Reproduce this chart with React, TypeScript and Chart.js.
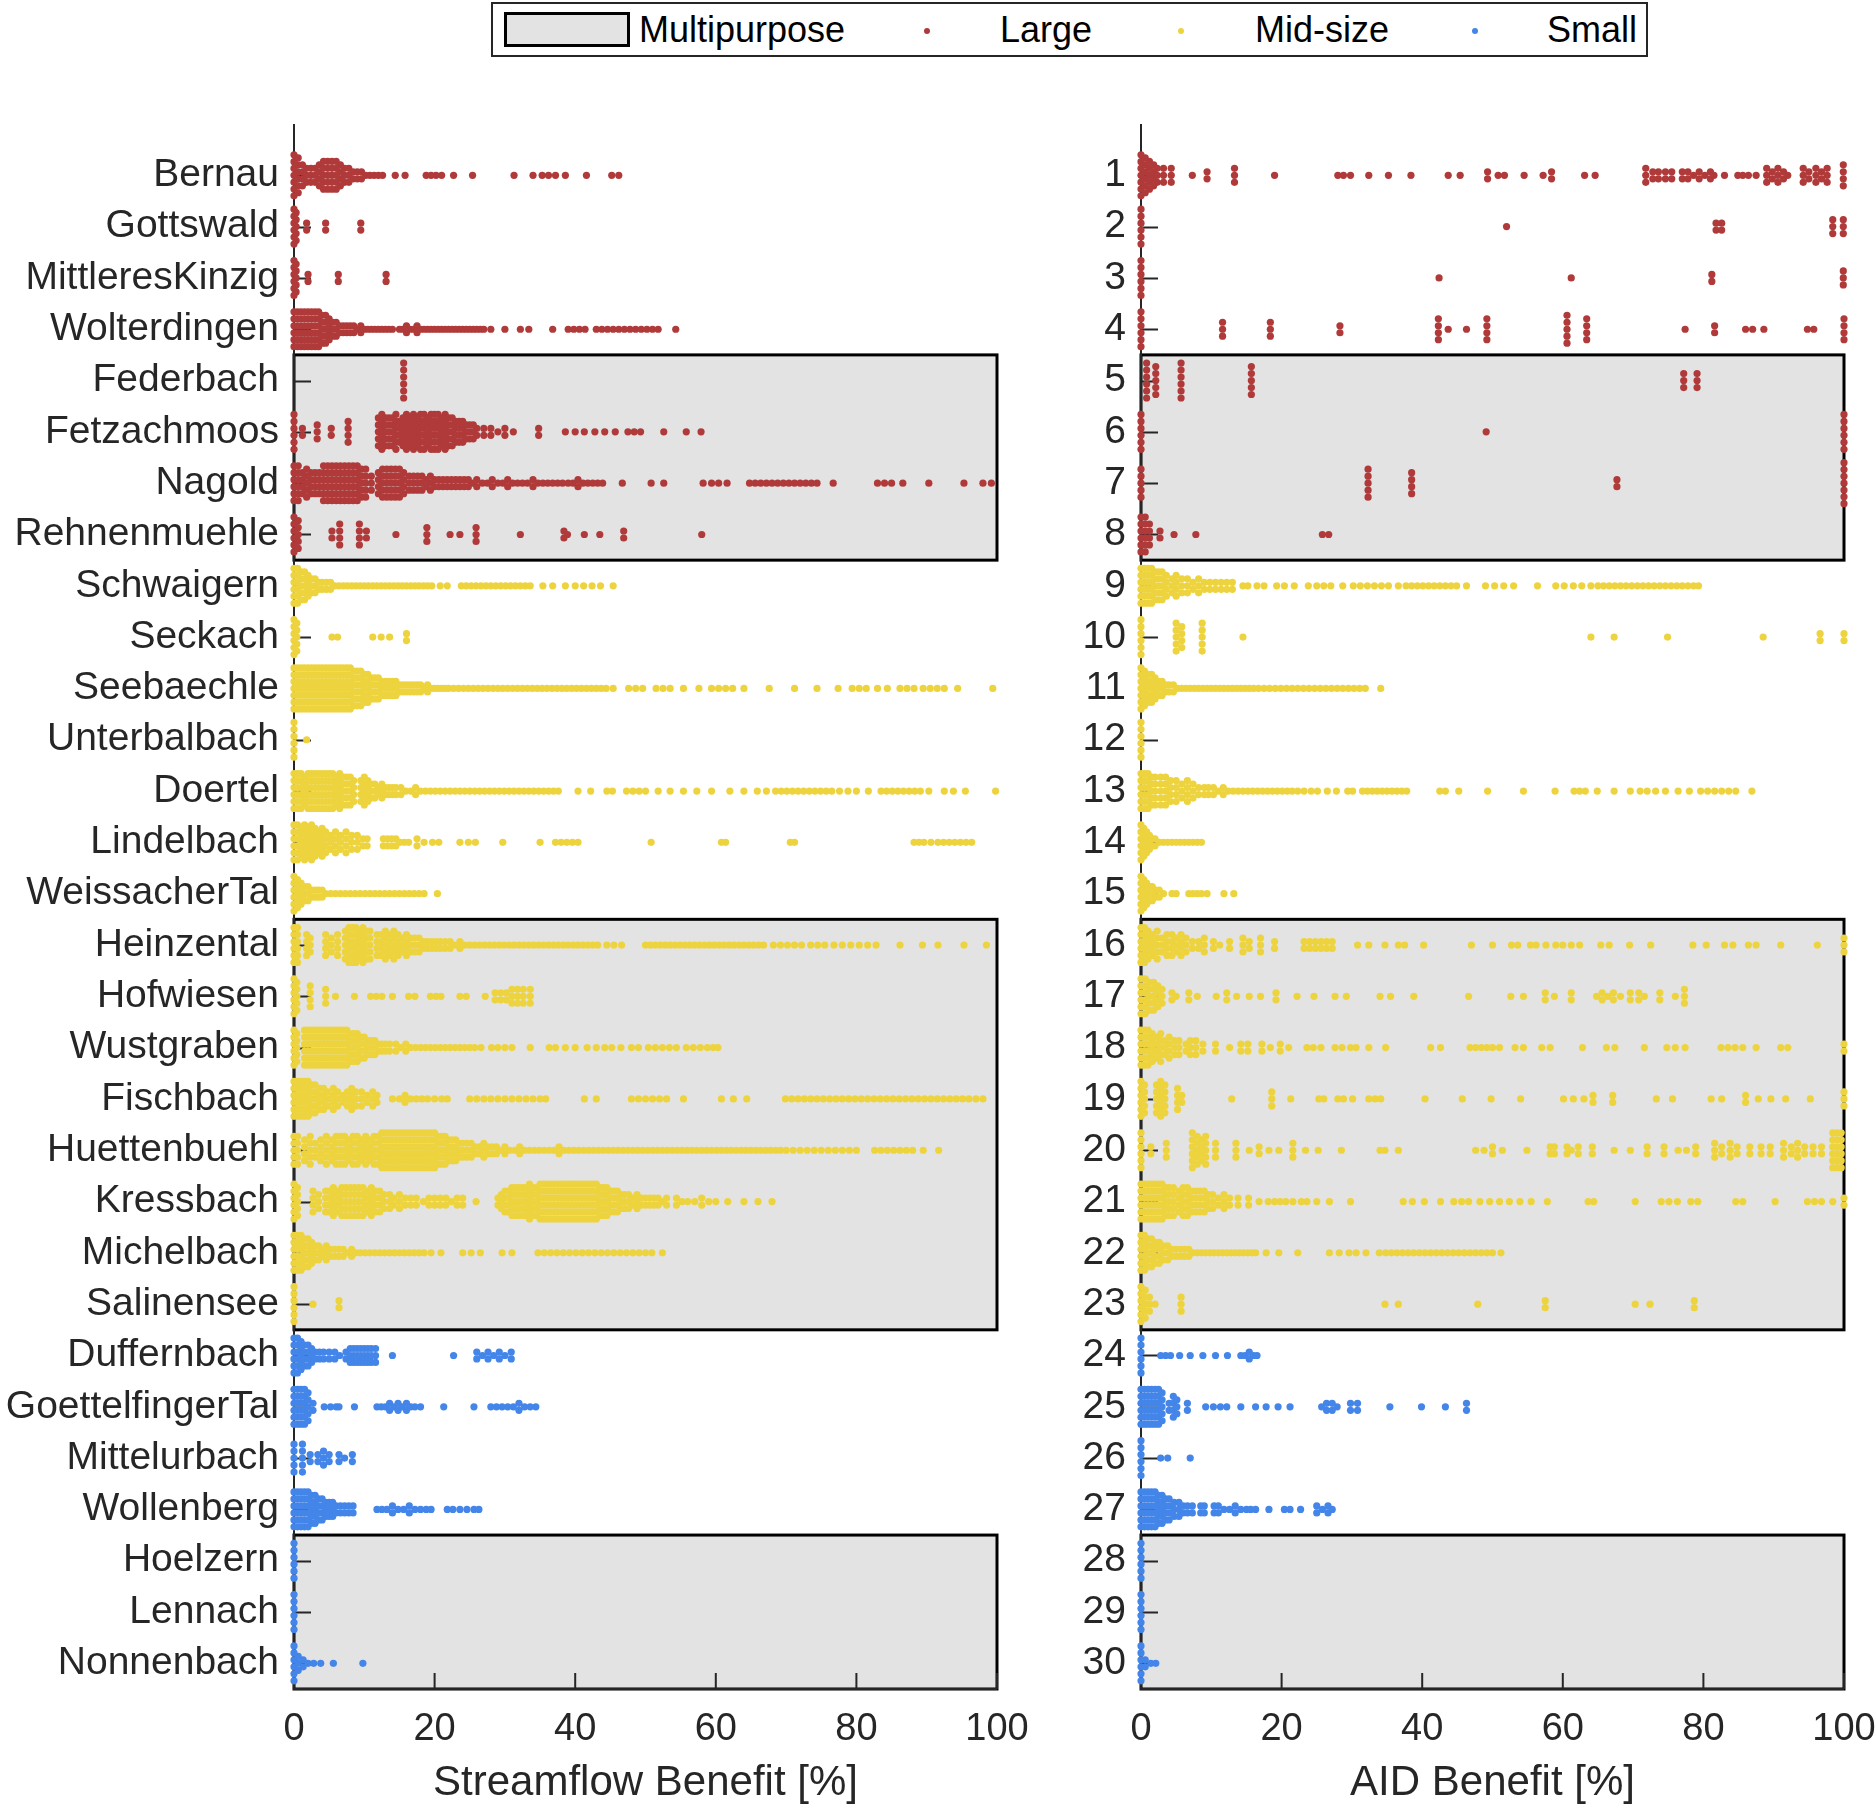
import React, { useEffect, useRef } from "react";
import { Chart, registerables } from "chart.js";

Chart.register(...registerables);

type Pt = [number, number]; // [benefit value in %, number of points stacked at that value]

// ---------- categories / labels ----------
const siteNames = [
  "Bernau", "Gottswald", "MittleresKinzig", "Wolterdingen", "Federbach", "Fetzachmoos", "Nagold", "Rehnenmuehle",
  "Schwaigern", "Seckach", "Seebaechle", "Unterbalbach", "Doertel", "Lindelbach", "WeissacherTal",
  "Heinzental", "Hofwiesen", "Wustgraben", "Fischbach", "Huettenbuehl", "Kressbach", "Michelbach", "Salinensee",
  "Duffernbach", "GoettelfingerTal", "Mittelurbach", "Wollenberg", "Hoelzern", "Lennach", "Nonnenbach",
];
const siteNumbers = siteNames.map((_, i) => String(i + 1));
const sizeClasses = ["Large", "Mid-size", "Small"];
const sizeRowRanges = [[1, 8], [9, 23], [24, 30]];
const sizeColors = ["#B03A3A", "#EDD43F", "#4385E8"];
const multipurposeGroups = [[5, 8], [16, 23], [28, 30]];
const xTickValues = [0, 20, 40, 60, 80, 100];
const panelTitles = ["Streamflow Benefit [%]", "AID Benefit [%]"];

// ---------- Streamflow benefit (left panel) ----------
const sfBernau: Pt[] = [[0,7],[0.6,6],[1.2,4],[1.8,3],[2.4,3],[3,3],[3.6,4],[4.2,5],[4.8,5],[5.4,5],[6,5],[6.6,4],[7.2,3],[7.8,3],[8.4,2],[9,2],[9.6,2],[10.2,1],[10.8,1],[11.4,1],[12,1],[12.6,1],[14.4,1],[15.8,1],[18.8,1],[19.5,1],[20.2,1],[21,1],[22.7,1],[25.4,1],[31.3,1],[34,1],[35.3,1],[36.2,1],[37.2,1],[38.6,1],[41.6,1],[45.2,1],[46.2,1]];
const sfGottswald: Pt[] = [[0,6],[0.3,5],[1.8,2],[4.5,2],[9.5,2]];
const sfMittleresKinzig: Pt[] = [[0,6],[0.3,5],[2,2],[6.3,2],[13.1,2]];
const sfWolterdingen: Pt[] = [[0,6],[0.5,6],[1,6],[1.5,6],[2,6],[2.5,6],[3,6],[3.5,6],[4,5],[4.5,5],[5,4],[5.5,3],[6,3],[6.5,2],[7,2],[7.5,2],[8,2],[8.5,2],[9,1],[9.5,2],[10,1],[10.5,1],[11,1],[11.5,1],[12,1],[12.5,1],[13,1],[13.5,1],[14,1],[15,1],[15.5,1],[16,2],[16.5,1],[17,1],[17.5,2],[18,1],[18.5,1],[19,1],[19.5,1],[20,1],[20.5,1],[21,1],[21.5,1],[22,1],[22.5,1],[23,1],[23.5,1],[24,1],[24.5,1],[25,1],[25.5,1],[26,1],[26.5,1],[27,1],[28,1],[30,1],[32.2,1],[33.4,1],[36.8,1],[39,1],[39.8,1],[40.6,1],[41.4,1],[43,1],[43.8,1],[44.6,1],[45.4,1],[46.2,1],[47,1],[47.8,1],[48.6,1],[49.4,1],[50.2,1],[51,1],[51.8,1],[54.3,1]];
const sfFederbach: Pt[] = [[15.6,6]];
const sfFetzachmoos: Pt[] = [[0,6],[1.2,2],[3.3,3],[5.3,2],[7.7,4],[12,5],[12.5,6],[13,5],[13.5,5],[14,5],[14.5,6],[15,4],[15.5,5],[16,6],[16.5,5],[17,6],[17.5,5],[18,6],[18.5,6],[19,5],[19.5,6],[20,6],[20.5,6],[21,5],[21.5,6],[22,5],[22.5,5],[23,4],[23.5,4],[24,4],[24.5,3],[25,3],[25.5,3],[26,2],[27,2],[28,2],[29,1],[30,2],[31.2,1],[34.8,2],[38.6,1],[40,1],[41.3,1],[42.8,1],[44.2,1],[45.7,1],[47.5,1],[48.4,1],[49.3,1],[52.6,1],[55.8,1],[57.9,1]];
const sfNagold: Pt[] = [[0,6],[0.6,6],[1.2,4],[1.8,5],[2.4,4],[3,4],[3.6,4],[4.2,6],[4.8,6],[5.4,6],[6,6],[6.6,6],[7.2,6],[7.8,6],[8.4,6],[9,6],[9.6,5],[10.2,5],[11,3],[12,4],[12.6,5],[13.2,5],[13.8,5],[14.4,5],[15,5],[15.6,4],[16.4,3],[17,3],[17.6,3],[18.2,3],[18.8,2],[19.4,3],[20,2],[20.6,2],[21.2,2],[21.8,2],[22.4,2],[23,2],[23.6,2],[24.2,2],[24.8,2],[25.4,1],[26,2],[26.8,1],[27.5,1],[28.2,2],[29,1],[29.7,1],[30.4,2],[31.1,1],[31.8,1],[32.5,1],[33.2,1],[34,2],[34.7,1],[35.4,1],[36.1,1],[36.8,1],[37.5,1],[38.2,1],[39,1],[39.7,1],[40.4,2],[41.1,1],[41.8,1],[42.5,1],[43.2,1],[43.9,1],[46.7,1],[50.8,1],[52.6,1],[58.2,1],[59.4,1],[60.4,1],[61.6,1],[64.8,1],[65.6,1],[66.4,1],[67.2,1],[68,1],[68.8,1],[69.6,1],[70.4,1],[71.2,1],[72,1],[72.8,1],[73.6,1],[74.4,1],[76.7,1],[83,1],[84,1],[85,1],[86.6,1],[90.3,1],[95.3,1],[98,1],[99.2,1]];
const sfRehnenmuehle: Pt[] = [[0,6],[0.6,5],[5.4,2],[6.5,4],[9.3,4],[10.3,2],[14.5,1],[18.9,3],[22.2,1],[23.6,1],[25.9,3],[32.2,1],[38.4,2],[38.9,1],[41.3,1],[43.5,1],[46.9,2],[58,1]];
const sfSchwaigern: Pt[] = [[0,6],[0.5,6],[1,5],[1.5,5],[2,4],[2.5,3],[3,3],[3.5,2],[4,2],[4.6,2],[5.2,2],[5.8,1],[6.4,1],[7,1],[7.6,1],[8.2,1],[8.8,1],[9.4,1],[10,1],[10.6,1],[11.2,1],[11.8,1],[12.4,1],[13,1],[13.6,1],[14.2,1],[14.8,1],[15.4,1],[16,1],[16.6,1],[17.2,1],[17.8,1],[18.4,1],[19,1],[19.6,1],[20.8,1],[21.8,1],[23.8,1],[24.5,1],[25.2,1],[25.9,1],[26.6,1],[27.3,1],[28,1],[28.7,1],[29.4,1],[30.1,1],[30.8,1],[31.5,1],[32.2,1],[32.9,1],[33.6,1],[35.4,1],[36.8,1],[38.6,1],[40,1],[41.2,1],[42.4,1],[43.6,1],[45.4,1]];
const sfSeckach: Pt[] = [[0,6],[0.4,5],[5.4,1],[6.2,1],[11.2,1],[12.4,1],[13.6,1],[16,2]];
const sfSeebaechle: Pt[] = [[0,7],[0.5,7],[1,7],[1.5,7],[2,7],[2.5,7],[3,7],[3.5,7],[4,7],[4.5,7],[5,7],[5.5,7],[6,7],[6.5,7],[7,7],[7.5,7],[8,7],[8.5,6],[9,6],[9.5,6],[10,5],[10.5,5],[11,4],[11.5,4],[12,4],[12.5,3],[13,3],[13.5,3],[14,3],[14.5,3],[15,2],[15.5,2],[16,2],[16.5,2],[17,2],[17.5,2],[18,2],[18.5,1],[19,2],[19.5,1],[20,1],[20.5,1],[21,1],[21.5,1],[22,1],[22.7,1],[23.4,1],[24.1,1],[24.8,1],[25.5,1],[26.2,1],[26.9,1],[27.6,1],[28.3,1],[29,1],[29.7,1],[30.4,1],[31.1,1],[31.8,1],[32.5,1],[33.2,1],[33.9,1],[34.6,1],[35.3,1],[36,1],[36.7,1],[37.4,1],[38.1,1],[38.8,1],[39.5,1],[40.2,1],[40.9,1],[41.6,1],[42.3,1],[43,1],[43.7,1],[44.4,1],[45.4,1],[47.6,1],[48.6,1],[49.6,1],[51.5,1],[52.5,1],[53.5,1],[55.4,1],[57.6,1],[59.4,1],[60.4,1],[61.4,1],[62.4,1],[64,1],[67.6,1],[71.2,1],[74.4,1],[77.4,1],[79.4,1],[80.4,1],[81.4,1],[83,1],[84.4,1],[86.2,1],[87.2,1],[88.2,1],[89.5,1],[90.5,1],[91.5,1],[92.5,1],[94.4,1],[99.4,1]];
const sfUnterbalbach: Pt[] = [[0,6],[1.8,1]];
const sfDoertel: Pt[] = [[0,6],[0.5,6],[1,6],[1.5,5],[2,6],[2.5,6],[3,6],[3.5,6],[4,6],[4.5,6],[5,6],[5.5,6],[6,5],[6.5,6],[7,5],[7.5,5],[8,5],[8.5,4],[9.5,4],[10,5],[10.5,4],[11,3],[11.5,3],[12,2],[12.5,3],[13,2],[13.5,2],[14,2],[14.5,2],[15.2,2],[15.9,1],[16.6,1],[17.3,2],[18,1],[18.7,1],[19.4,1],[20.1,1],[20.8,1],[21.5,1],[22.2,1],[22.9,1],[23.6,1],[24.3,1],[25,1],[25.7,1],[26.4,1],[27.1,1],[27.8,1],[28.5,1],[29.2,1],[29.9,1],[30.6,1],[31.3,1],[32,1],[32.7,1],[33.4,1],[34.1,1],[34.8,1],[35.5,1],[36.2,1],[36.9,1],[37.6,1],[40.4,1],[42.2,1],[44.5,1],[45.3,1],[47.3,1],[48.2,1],[49.1,1],[50,1],[51.8,1],[53.5,1],[55.4,1],[57.3,1],[59.4,1],[62,1],[64,1],[65.9,1],[67.2,1],[68.5,1],[69.3,1],[70.1,1],[70.9,1],[71.7,1],[72.5,1],[73.3,1],[74.1,1],[74.9,1],[75.7,1],[76.5,1],[77.6,1],[78.8,1],[80,1],[81.7,1],[83.5,1],[84.3,1],[85.1,1],[85.9,1],[86.7,1],[87.5,1],[88.3,1],[89.1,1],[90.3,1],[92.5,1],[93.8,1],[95.5,1],[99.8,1]];
const sfLindelbach: Pt[] = [[0,6],[0.5,6],[1,5],[1.5,6],[2,5],[2.5,6],[3,5],[3.5,4],[4,5],[4.5,4],[5.2,3],[5.9,4],[6.6,3],[7.4,4],[8.2,3],[9,3],[9.8,2],[10.4,2],[12.7,2],[13.3,2],[13.9,2],[14.5,2],[15.1,1],[15.7,1],[16.3,1],[17.5,2],[18.5,1],[19.7,1],[20.6,1],[23.6,1],[24.8,1],[25.8,1],[29.7,1],[35,1],[37.2,1],[38,1],[38.8,1],[39.6,1],[40.4,1],[50.8,1],[60.8,1],[61.4,1],[70.6,1],[71.2,1],[88.2,1],[88.9,1],[89.6,1],[90.6,1],[91.6,1],[92.4,1],[93.2,1],[94,1],[94.8,1],[95.6,1],[96.4,1]];
const sfWeissacherTal: Pt[] = [[0,6],[0.5,5],[1,4],[1.5,3],[2,3],[2.5,2],[3,2],[3.5,2],[4,2],[4.5,1],[5.2,1],[5.9,1],[6.6,1],[7.3,1],[8,1],[8.7,1],[9.4,1],[10.1,1],[10.8,1],[11.5,1],[12.2,1],[12.9,1],[13.6,1],[14.3,1],[15,1],[15.7,1],[16.4,1],[17.1,1],[17.8,1],[18.5,1],[20.4,1]];
const sfHeinzental: Pt[] = [[0,6],[0.5,6],[1.8,4],[2.3,3],[4.5,4],[5.3,3],[6.2,4],[7.3,5],[7.8,6],[8.3,6],[8.8,6],[9.3,5],[9.8,6],[10.3,5],[10.8,5],[11.8,4],[12.4,4],[13,5],[13.6,4],[14.2,5],[14.8,4],[15.4,3],[16,4],[16.6,3],[17.2,3],[17.8,3],[18.4,2],[19,2],[19.6,2],[20.2,2],[20.8,2],[21.5,2],[22.2,2],[22.9,1],[23.6,2],[24.3,1],[25,1],[25.7,1],[26.4,1],[27.1,1],[27.8,1],[28.5,1],[29.2,1],[29.9,1],[30.6,1],[31.3,1],[32,1],[32.7,1],[33.4,1],[34.1,1],[34.8,1],[35.5,1],[36.2,1],[36.9,1],[37.6,1],[38.3,1],[39,1],[39.7,1],[40.4,1],[41.1,1],[41.8,1],[42.5,1],[43.2,1],[44.5,1],[45.5,1],[46.6,1],[50,1],[50.7,1],[51.4,1],[52.1,1],[52.8,1],[53.5,1],[54.2,1],[54.9,1],[55.6,1],[56.3,1],[57,1],[57.7,1],[58.4,1],[59.1,1],[59.8,1],[60.5,1],[61.2,1],[61.9,1],[62.6,1],[63.3,1],[64,1],[64.7,1],[65.4,1],[66.1,1],[66.8,1],[68.2,1],[69.2,1],[70.2,1],[71.2,1],[72.2,1],[73.5,1],[74.5,1],[75.5,1],[76.8,1],[78,1],[79.2,1],[80.4,1],[81.6,1],[82.8,1],[86.2,1],[89.4,1],[91.6,1],[95.3,1],[98.5,1]];
const sfHofwiesen: Pt[] = [[0,6],[0.4,5],[2.3,4],[4.5,3],[5.9,1],[8.6,1],[10.9,1],[11.7,1],[12.5,1],[14,1],[16.3,1],[17.2,1],[19.4,1],[20.2,1],[20.9,1],[23.6,1],[24.5,1],[27.2,1],[28.6,2],[29.4,2],[30.2,2],[31,3],[31.8,3],[32.6,3],[33.6,3]];
const sfWustgraben: Pt[] = [[0,6],[0.4,5],[1.5,6],[2,6],[2.5,6],[3,6],[3.5,6],[4,6],[4.5,6],[5,6],[5.5,6],[6,6],[6.5,6],[7,6],[7.5,6],[8,5],[8.5,5],[9,5],[9.5,4],[10,4],[10.5,3],[11,3],[11.5,3],[12,2],[12.5,2],[13,2],[13.6,2],[14.5,2],[15.2,1],[15.9,2],[16.6,1],[17.3,1],[18,1],[18.7,1],[19.4,1],[20.1,1],[20.8,1],[21.5,1],[22.2,1],[22.9,1],[23.6,1],[24.3,1],[25,1],[25.7,1],[26.6,1],[28.1,1],[29,1],[30,1],[31,1],[33.6,1],[36.3,1],[37.2,1],[38.6,1],[40,1],[41.7,1],[43,1],[44.2,1],[45.2,1],[46.5,1],[48,1],[49,1],[50.4,1],[51.4,1],[52.4,1],[53.4,1],[54.4,1],[55.8,1],[56.8,1],[57.8,1],[58.8,1],[59.6,1],[60.3,1]];
const sfFischbach: Pt[] = [[0,6],[0.5,6],[1,6],[1.5,6],[2,6],[2.5,5],[3,5],[3.6,4],[4.2,4],[4.8,3],[5.6,4],[6.2,3],[7,2],[7.6,3],[8.2,4],[8.8,3],[9.6,3],[10.4,2],[11.2,3],[11.8,2],[14,1],[15,1],[15.8,2],[16.6,1],[17.4,1],[18.2,1],[19,1],[20,1],[21,1],[21.8,1],[25,1],[26,1],[27,1],[28,1],[29,1],[30,1],[31,1],[32,1],[33,1],[34,1],[35,1],[35.8,1],[41.3,1],[43,1],[48,1],[49,1],[50,1],[51,1],[52,1],[53,1],[55.4,1],[60.8,1],[62.5,1],[64.4,1],[69.9,1],[70.8,1],[71.7,1],[72.6,1],[73.5,1],[74.4,1],[75.3,1],[76.2,1],[77.1,1],[78,1],[78.9,1],[79.8,1],[80.7,1],[81.6,1],[82.5,1],[83.4,1],[84.3,1],[85.2,1],[86.1,1],[87,1],[87.9,1],[88.8,1],[89.7,1],[90.6,1],[91.5,1],[92.4,1],[93.3,1],[94.2,1],[95.1,1],[96,1],[97,1],[98,1]];
const sfHuettenbuehl: Pt[] = [[0,5],[0.5,5],[1.5,4],[2.3,5],[3,3],[3.8,4],[4.6,5],[5.4,4],[6,5],[6.6,5],[7.2,5],[7.8,4],[8.4,5],[9,5],[9.6,4],[10.2,5],[10.8,4],[11.4,5],[12,5],[12.5,6],[13,6],[13.5,6],[14,6],[14.5,6],[15,6],[15.5,6],[16,6],[16.5,6],[17,6],[17.5,6],[18,6],[18.5,6],[19,6],[19.5,6],[20,6],[20.5,5],[21,5],[21.5,5],[22,4],[22.5,4],[23,4],[23.5,3],[24,3],[24.6,3],[25.2,3],[25.8,2],[26.4,2],[27,3],[27.6,2],[28.2,2],[28.8,2],[29.4,1],[30,2],[30.7,1],[31.4,1],[32.1,2],[32.8,1],[33.5,1],[34.2,1],[34.9,1],[35.6,1],[36.3,1],[37,1],[37.7,2],[38.4,1],[39.1,1],[39.8,1],[40.5,1],[41.2,1],[41.9,1],[42.6,1],[43.3,1],[44,1],[44.7,1],[45.4,1],[46.1,1],[46.8,1],[47.5,1],[48.2,1],[48.9,1],[49.6,1],[50.3,1],[51,1],[51.7,1],[52.4,1],[53.1,1],[53.8,1],[54.5,1],[55.2,1],[55.9,1],[56.6,1],[57.3,1],[58,1],[58.7,1],[59.4,1],[60.1,1],[60.8,1],[61.5,1],[62.2,1],[62.9,1],[63.6,1],[64.3,1],[65,1],[65.7,1],[66.4,1],[67.1,1],[67.8,1],[68.5,1],[69.2,1],[70,1],[71,1],[72,1],[73,1],[74,1],[75,1],[76,1],[77,1],[78,1],[79,1],[80,1],[82.6,1],[83.5,1],[84.4,1],[85.3,1],[86.2,1],[87.1,1],[88,1],[89.5,1],[91.7,1]];
const sfKressbach: Pt[] = [[0,6],[0.5,5],[2.7,4],[3.5,3],[4.5,4],[5,4],[5.6,5],[6.2,4],[6.8,5],[7.4,5],[8,5],[8.6,5],[9.2,5],[9.8,5],[10.4,4],[11,5],[11.6,4],[12.2,4],[12.8,3],[13.6,3],[14.2,2],[15,3],[15.8,2],[16.6,2],[17.4,2],[18.4,1],[19.2,2],[20,2],[20.8,2],[21.6,2],[22.4,1],[23.2,2],[24,2],[25.9,1],[29,2],[29.5,3],[30,4],[30.5,4],[31,5],[31.5,5],[32,5],[32.5,5],[33,5],[33.5,6],[34,5],[34.5,5],[35,6],[35.5,6],[36,6],[36.5,6],[37,6],[37.5,6],[38,6],[38.5,6],[39,6],[39.5,6],[40,6],[40.5,6],[41,6],[41.5,6],[42,6],[42.5,6],[43,6],[43.5,5],[44,5],[44.5,5],[45,4],[45.5,4],[46,4],[46.5,3],[47,3],[47.6,3],[48.2,2],[48.8,3],[49.4,2],[50,2],[50.6,2],[51.2,2],[51.8,2],[52.4,1],[53,2],[54.4,2],[55.2,1],[56,1],[57,1],[58,2],[59,1],[60,1],[61.7,1],[64,1],[66,1],[68,1]];
const sfMichelbach: Pt[] = [[0,6],[0.5,6],[1,6],[1.5,5],[2,5],[2.5,4],[3,3],[3.5,3],[4,2],[4.6,3],[5.2,2],[5.8,2],[6.4,2],[7,2],[7.6,1],[8.2,2],[8.8,1],[9.4,1],[10.1,1],[10.8,1],[11.5,1],[12.2,1],[12.9,1],[13.6,1],[14.3,1],[15,1],[15.7,1],[16.4,1],[17.1,1],[17.8,1],[18.5,1],[19.5,1],[20.9,1],[24,1],[25.2,1],[26.5,1],[29.6,1],[31,1],[34.7,1],[35.6,1],[36.5,1],[37.4,1],[38.3,1],[39.2,1],[40.1,1],[41,1],[41.9,1],[42.8,1],[43.7,1],[44.6,1],[45.5,1],[46.4,1],[47.3,1],[48.2,1],[49.1,1],[50,1],[50.9,1],[52.4,1]];
const sfSalinensee: Pt[] = [[0,6],[2.7,1],[6.4,2]];
const sfDuffernbach: Pt[] = [[0,6],[0.5,6],[1,5],[1.5,4],[2,4],[2.5,3],[3,2],[3.6,2],[4.2,2],[5,2],[5.8,2],[6.5,1],[7.4,2],[8,3],[8.5,3],[9,3],[9.5,3],[10,3],[10.5,3],[11,3],[11.6,3],[14,1],[22.7,1],[26,2],[26.8,1],[27.6,2],[28.4,1],[29.2,2],[30,1],[30.9,2]];
const sfGoettelfingerTal: Pt[] = [[0,6],[0.5,6],[1,6],[1.5,6],[2,5],[2.7,2],[4.3,1],[5.2,1],[6,1],[6.4,1],[8.6,1],[11.8,1],[12.4,1],[13,1],[13.6,2],[14.2,1],[14.8,2],[15.4,1],[16,2],[16.6,1],[17.2,1],[18,1],[21.3,1],[25.6,1],[28,1],[28.8,1],[29.6,1],[30.4,1],[31.2,1],[32,2],[32.8,1],[33.6,1],[34.4,1]];
const sfMittelurbach: Pt[] = [[0,5],[1.2,5],[2.3,2],[3.4,2],[4.2,3],[5,2],[6.4,2],[7.2,1],[8.3,2]];
const sfWollenberg: Pt[] = [[0,6],[0.5,6],[1,6],[1.5,6],[2,6],[2.5,5],[3,5],[3.5,4],[4,4],[4.5,3],[5,3],[5.5,3],[6,2],[6.6,2],[7.2,2],[7.8,2],[8.4,2],[11.8,1],[12.5,1],[13.2,1],[14,2],[14.8,1],[15.6,1],[16.4,2],[17.2,1],[18,1],[18.8,1],[19.5,1],[21.8,1],[22.6,1],[23.6,1],[24.6,1],[25.6,1],[26.3,1]];
const sfHoelzern: Pt[] = [[0,6]];
const sfLennach: Pt[] = [[0,6]];
const sfNonnenbach: Pt[] = [[0,6],[0.6,3],[1.3,2],[2,1],[2.8,1],[3.8,1],[5.6,1],[9.8,1]];

// ---------- AID benefit (right panel) ----------
const aid01: Pt[] = [[0,7],[0.6,6],[1.2,5],[1.8,4],[2.3,3],[3.2,3],[4.3,3],[7.3,1],[9.4,2],[13.3,3],[19,1],[28,1],[28.8,1],[29.8,1],[32.4,1],[35.2,1],[38.4,1],[43.7,1],[45.4,1],[49.3,2],[50.8,1],[51.7,1],[54.5,1],[57.2,1],[58.4,2],[63.1,1],[64.6,1],[71.8,3],[72.8,2],[73.6,2],[74.6,2],[75.5,2],[77,2],[77.8,2],[78.6,1],[79.4,2],[80.2,1],[81,2],[81.5,1],[83,1],[84.9,1],[85.6,1],[86.4,1],[87.5,1],[89,3],[89.8,2],[90.6,3],[91.4,2],[92,1],[94.2,3],[95,2],[96,3],[96.8,2],[97.6,3],[99.9,4]];
const aid02: Pt[] = [[0,6],[52,1],[81.8,2],[82.6,2],[98.4,3],[99.9,3]];
const aid03: Pt[] = [[0,6],[42.4,1],[61.2,1],[81.2,2],[99.9,3]];
const aid04: Pt[] = [[0,6],[11.6,3],[18.4,3],[28.3,2],[42.3,4],[43.7,1],[46.3,1],[49.2,4],[60.6,5],[63.4,4],[77.4,1],[81.6,2],[86,1],[87,1],[88.6,1],[94.8,1],[95.7,1],[100,4]];
const aid05: Pt[] = [[0.8,6],[2.1,5],[5.7,6],[15.7,5],[77.2,3],[79.1,3]];
const aid06: Pt[] = [[0,6],[49.1,1],[100,6]];
const aid07: Pt[] = [[0,5],[32.3,5],[38.5,4],[67.7,2],[100,7]];
const aid08: Pt[] = [[0,6],[0.6,6],[1.2,4],[2.7,2],[4.7,1],[7.8,1],[25.8,1],[26.7,1]];
const aid09: Pt[] = [[0,6],[0.5,6],[1,6],[1.5,6],[2,5],[2.5,5],[3,5],[3.6,4],[4.4,3],[5,4],[5.8,3],[6.6,3],[7.4,2],[8.2,3],[9,2],[9.8,2],[10.6,2],[11.4,2],[12.2,2],[13,2],[14.5,1],[15.2,1],[16.5,1],[17.5,1],[19.3,1],[20.4,1],[21.8,1],[23.8,1],[25,1],[26,1],[27,1],[28.7,1],[30.2,1],[31.2,1],[32.2,1],[33.2,1],[34.2,1],[35.2,1],[36.6,1],[37.7,1],[38.5,1],[39.3,1],[40.1,1],[40.9,1],[41.7,1],[42.5,1],[43.3,1],[44.1,1],[44.9,1],[46.3,1],[49,1],[50.3,1],[51.6,1],[53,1],[56.4,1],[59,1],[60.2,1],[61.5,1],[62.7,1],[64,1],[65,1],[65.8,1],[66.6,1],[67.4,1],[68.2,1],[69,1],[69.8,1],[70.6,1],[71.4,1],[72.2,1],[73,1],[73.8,1],[74.6,1],[75.4,1],[76.2,1],[77,1],[77.8,1],[78.6,1],[79.3,1]];
const aid10: Pt[] = [[0,6],[5,5],[5.8,4],[8.7,5],[14.5,1],[64,1],[67.3,1],[74.9,1],[88.5,1],[96.6,2],[100,2]];
const aid11: Pt[] = [[0,7],[0.5,6],[1,5],[1.5,5],[2,4],[2.5,3],[3,3],[3.5,2],[4,2],[4.6,2],[5.2,1],[5.8,1],[6.4,1],[7,1],[7.6,1],[8.2,1],[8.8,1],[9.4,1],[10,1],[10.6,1],[11.2,1],[11.8,1],[12.4,1],[13,1],[13.6,1],[14.2,1],[14.8,1],[15.4,1],[16,1],[16.7,1],[17.5,1],[18.3,1],[19.1,1],[19.9,1],[20.7,1],[21.5,1],[22.3,1],[23.1,1],[23.9,1],[24.7,1],[25.5,1],[26.3,1],[27.1,1],[27.9,1],[28.7,1],[29.5,1],[30.3,1],[31.1,1],[31.9,1],[34.1,1]];
const aid12: Pt[] = [[0,6]];
const aid13: Pt[] = [[0,6],[0.5,6],[1,6],[1.5,5],[2,5],[2.8,5],[3.5,5],[4.2,4],[5,4],[5.8,3],[6.6,4],[7.4,3],[8.2,2],[9,2],[9.6,2],[10.3,2],[11,1],[11.7,2],[12.4,1],[13.1,1],[13.8,1],[14.5,1],[15.2,1],[15.9,1],[16.6,1],[17.3,1],[18,1],[18.7,1],[19.4,1],[20.1,1],[20.8,1],[21.5,1],[22.3,1],[23.2,1],[24.2,1],[25.1,1],[26.5,1],[27.8,1],[29.4,1],[30.1,1],[31.5,1],[32.2,1],[32.9,1],[33.6,1],[34.3,1],[35,1],[35.7,1],[36.4,1],[37.1,1],[37.8,1],[42.5,1],[43.3,1],[45.2,1],[49.3,1],[54.4,1],[58.9,1],[61.6,1],[62.4,1],[63.2,1],[64.9,1],[67.3,1],[69.6,1],[71,1],[72,1],[73.2,1],[74.6,1],[76.4,1],[78,1],[79.6,1],[80.6,1],[81.6,1],[82.6,1],[83.6,1],[84.6,1],[86.9,1]];
const aid14: Pt[] = [[0,6],[0.4,5],[0.8,4],[1.2,3],[1.6,2],[2,2],[2.6,1],[3.2,1],[3.8,1],[4.4,1],[5,1],[5.6,1],[6.2,1],[6.8,1],[7.4,1],[8,1],[8.6,1]];
const aid15: Pt[] = [[0,6],[0.4,5],[0.8,4],[1.2,3],[1.6,3],[2.1,2],[2.6,2],[3.2,1],[4.4,1],[5,1],[6.8,1],[7.4,1],[8,1],[8.6,1],[9.4,1],[11.8,1],[13.2,1]];
const aid16: Pt[] = [[0,6],[0.5,6],[1,5],[1.6,4],[2.3,5],[3,3],[3.7,4],[4.4,4],[5,3],[5.7,4],[6.4,3],[7.3,2],[8.2,2],[9,3],[10.3,2],[11.2,1],[12.6,2],[14.5,3],[15.4,2],[17,3],[19,2],[23.2,2],[24,2],[24.8,2],[25.6,2],[26.4,2],[27.2,2],[30.8,1],[32.4,1],[34.7,1],[36.6,1],[37.5,1],[40.2,1],[47,1],[50,1],[52.7,1],[53.6,1],[55.4,1],[56.2,1],[57.6,1],[59,1],[60,1],[61.2,1],[62.4,1],[65.4,1],[66.6,1],[69.5,1],[72.5,1],[78.5,1],[80.4,1],[83,1],[84.2,1],[86.4,1],[87.5,1],[91,1],[96.2,1],[100,3]];
const aid17: Pt[] = [[0,6],[0.6,6],[1.2,5],[1.8,5],[2.4,4],[3,3],[4.4,2],[5,1],[6.8,2],[8,1],[10.7,1],[12.2,2],[13.6,1],[15.4,1],[17,1],[19.2,2],[22.2,1],[24.6,1],[27.6,1],[29.2,1],[34,1],[35.5,1],[38.8,1],[46.6,1],[52.6,1],[54.4,1],[57.5,2],[58.8,1],[61.2,2],[64.8,1],[65.6,2],[66.4,1],[67.2,2],[68.2,1],[69.6,2],[70.8,2],[71.6,1],[73.8,2],[76,1],[77.3,3]];
const aid18: Pt[] = [[0,6],[0.5,6],[1,6],[1.6,5],[2.2,4],[2.8,5],[3.4,3],[4,4],[4.8,3],[5.4,3],[6.4,2],[7,3],[7.8,3],[8.8,2],[10.6,2],[12.6,1],[14.2,2],[15.2,2],[17.2,2],[18.4,1],[19.8,2],[21,1],[23.6,1],[24.5,1],[25.6,1],[27.6,1],[28.6,1],[29.8,1],[30.6,1],[32.4,1],[34.8,1],[41.2,1],[42.6,1],[46.8,1],[47.6,1],[48.4,1],[49.2,1],[50,1],[51,1],[53.2,1],[54.4,1],[57,1],[58.2,1],[62.8,1],[66.2,1],[67.4,1],[71.6,1],[74.8,1],[76,1],[77.4,1],[82.5,1],[83.5,1],[84.5,1],[85.6,1],[87.5,1],[91,1],[92,1],[100,2]];
const aid19: Pt[] = [[0,6],[0.5,5],[2.2,5],[2.8,6],[3.4,5],[5.2,4],[5.8,2],[12.9,1],[18.6,3],[21.3,1],[25.3,1],[26,1],[28,1],[28.8,1],[30.1,1],[32.4,1],[33.3,1],[34.1,1],[40.4,1],[45.7,1],[49.8,1],[54,1],[60.1,1],[61.5,1],[63,1],[64.3,2],[67.1,2],[73.3,1],[75.6,1],[81.1,1],[82.6,1],[86,2],[87.8,1],[89.6,1],[91.7,1],[95.2,1],[100,3]];
const aid20: Pt[] = [[0,6],[1.4,2],[3.6,3],[7.3,6],[8,5],[8.6,4],[9.2,5],[10.6,3],[13.5,3],[15.4,1],[16.8,2],[18.2,1],[19.6,1],[21.6,3],[23.4,1],[25.2,1],[28.5,1],[34,1],[34.7,1],[36.6,1],[47.6,1],[48.8,1],[50,2],[51.4,1],[54.9,1],[58.2,2],[58.8,2],[60.6,2],[61.2,1],[62.2,2],[64.2,2],[67.3,1],[69.6,1],[72,2],[74.4,2],[76.4,1],[77.6,1],[78.9,2],[81.6,3],[82.6,2],[83.8,3],[84.8,2],[86.6,2],[88.2,2],[89.5,2],[91.4,3],[92.5,2],[93.4,3],[94.4,2],[95.6,2],[96.8,2],[98.4,6],[99,6],[99.6,6]];
const aid21: Pt[] = [[0,6],[0.5,6],[1,6],[1.5,6],[2,6],[2.5,6],[3,6],[3.5,5],[4,5],[4.6,5],[5.4,4],[6,5],[6.6,5],[7.2,4],[7.8,4],[8.4,4],[9,4],[9.6,3],[10.2,3],[11,2],[11.8,3],[12.6,2],[13.8,2],[15.3,2],[16.8,1],[18.1,1],[19,1],[19.8,1],[20.6,1],[21.6,1],[22.8,1],[23.6,1],[25,1],[26.8,1],[29.8,1],[37.3,1],[38.6,1],[40.3,1],[42.6,1],[44.5,1],[45.6,1],[46.6,1],[48.2,1],[49.6,1],[51,1],[52.4,1],[53.9,1],[55.5,1],[57.8,1],[63.6,1],[64.4,1],[70.3,1],[74,1],[75.1,1],[76.3,1],[78.2,1],[79.2,1],[84.6,1],[85.6,1],[90.2,1],[94.8,1],[95.8,1],[96.8,1],[98.4,1],[100,2]];
const aid22: Pt[] = [[0,6],[0.5,6],[1,5],[1.5,5],[2,4],[2.6,4],[3.2,3],[3.8,3],[4.4,2],[5,2],[5.6,2],[6.2,2],[6.8,2],[7.4,1],[8,1],[8.6,1],[9.2,1],[9.8,1],[10.4,1],[11,1],[11.6,1],[12.2,1],[12.8,1],[13.4,1],[14,1],[14.6,1],[15.2,1],[15.8,1],[16.3,1],[17.8,1],[19.6,1],[22.3,1],[26.8,1],[28.2,1],[29.6,1],[30.6,1],[32,1],[33.9,1],[34.8,1],[35.6,1],[36.4,1],[37.2,1],[38,1],[38.8,1],[39.6,1],[40.4,1],[41.2,1],[42,1],[42.8,1],[43.6,1],[44.4,1],[45.2,1],[46,1],[46.8,1],[47.6,1],[48.4,1],[49.2,1],[50,1],[51.2,1]];
const aid23: Pt[] = [[0,6],[0.6,5],[1.2,3],[2,1],[5.7,3],[34.7,1],[36.6,1],[47.9,1],[57.5,2],[70.3,1],[72.4,1],[78.7,2]];
const aid24: Pt[] = [[0,6],[2.8,1],[3.5,1],[4.2,1],[5.5,1],[7,1],[8.8,1],[10.6,1],[12.3,1],[14.2,1],[14.8,1],[15.4,2],[16,1],[16.5,1]];
const aid25: Pt[] = [[0,6],[0.5,6],[1,6],[1.5,6],[2,6],[2.5,6],[3,5],[4,2],[4.6,4],[5.1,3],[6.6,2],[9.2,1],[10.3,1],[11.3,1],[12.2,1],[14.2,1],[16.3,1],[17.8,1],[19.5,1],[21.2,1],[25.7,1],[26.4,2],[27.2,2],[27.9,1],[29.8,2],[30.8,2],[35.4,1],[39.9,1],[43.3,1],[46.3,2]];
const aid26: Pt[] = [[0,6],[2.8,1],[3.8,1],[7,1]];
const aid27: Pt[] = [[0,6],[0.5,6],[1,6],[1.5,6],[2,6],[2.5,5],[3,5],[3.5,4],[4,4],[4.7,3],[5.4,3],[6,2],[6.6,2],[7.3,2],[8.5,2],[9,2],[10.4,2],[11,2],[11.8,1],[12.6,1],[13.4,2],[14.2,1],[15,1],[15.6,1],[16.3,1],[18.2,1],[20.4,1],[21.2,1],[22.7,1],[25,2],[25.8,1],[26.6,2],[27.2,1]];
const aid28: Pt[] = [[0,6]];
const aid29: Pt[] = [[0,6]];
const aid30: Pt[] = [[0,6],[0.6,2],[1.4,1],[2.1,1]];

const streamflowRows: Pt[][] = [
  sfBernau, sfGottswald, sfMittleresKinzig, sfWolterdingen, sfFederbach, sfFetzachmoos, sfNagold, sfRehnenmuehle,
  sfSchwaigern, sfSeckach, sfSeebaechle, sfUnterbalbach, sfDoertel, sfLindelbach, sfWeissacherTal,
  sfHeinzental, sfHofwiesen, sfWustgraben, sfFischbach, sfHuettenbuehl, sfKressbach, sfMichelbach, sfSalinensee,
  sfDuffernbach, sfGoettelfingerTal, sfMittelurbach, sfWollenberg, sfHoelzern, sfLennach, sfNonnenbach,
];
const aidRows: Pt[][] = [
  aid01, aid02, aid03, aid04, aid05, aid06, aid07, aid08, aid09, aid10, aid11, aid12, aid13, aid14, aid15,
  aid16, aid17, aid18, aid19, aid20, aid21, aid22, aid23, aid24, aid25, aid26, aid27, aid28, aid29, aid30,
];

// ---------- layout helpers ----------
const FONT = "'Liberation Sans', Arial, Helvetica, sans-serif";
const TEXT = "#262626";
const Y_MAX = 30.5;

// swarm layout: n points at the same value are stacked symmetrically around the row centre
function swarm(rows: Pt[][], first: number, last: number) {
  const pts: { x: number; y: number }[] = [];
  for (let r = first; r <= last; r++) {
    for (const [x, n] of rows[r - 1]) {
      const h = Math.min(0.4, (n - 1) * 0.068);
      for (let k = 0; k < n; k++) {
        const off = n === 1 ? 0 : -h + (2 * h * k) / (n - 1);
        pts.push({ x, y: r + off });
      }
    }
  }
  return pts;
}

const decorPlugin = {
  id: "panelDecor",
  beforeDatasetsDraw(chart: any) {
    const { ctx, chartArea } = chart;
    const xs = chart.scales.x;
    const ys = chart.scales.y;
    const x0 = xs.getPixelForValue(0);
    const x1 = xs.getPixelForValue(100);
    ctx.save();
    for (const [a, b] of multipurposeGroups) {
      const top = ys.getPixelForValue(a - 0.5);
      const bottom = ys.getPixelForValue(Math.min(b + 0.5, Y_MAX));
      ctx.fillStyle = "#E3E3E3";
      ctx.fillRect(x0, top, x1 - x0, bottom - top);
      ctx.lineWidth = 3;
      ctx.strokeStyle = "#000";
      ctx.strokeRect(x0, top, x1 - x0, bottom - top);
    }
    ctx.strokeStyle = TEXT;
    ctx.lineWidth = 2;
    ctx.beginPath();
    ctx.moveTo(x0, chartArea.top);
    ctx.lineTo(x0, chartArea.bottom);
    ctx.lineTo(x1, chartArea.bottom);
    ctx.stroke();
    ctx.beginPath();
    for (let r = 1; r <= siteNames.length; r++) {
      const yy = Math.round(ys.getPixelForValue(r)) + 0.5;
      ctx.moveTo(x0, yy);
      ctx.lineTo(x0 + 17, yy);
    }
    for (const t of xTickValues) {
      const xx = xs.getPixelForValue(t);
      ctx.moveTo(xx, chartArea.bottom);
      ctx.lineTo(xx, chartArea.bottom - 16);
    }
    ctx.stroke();
    ctx.restore();
  },
};

function makeConfig(rows: Pt[][], labels: string[], title: string, yAxisWidth: number, padRight: number) {
  const datasets = sizeClasses.map((name, i) => ({
    label: name,
    data: swarm(rows, sizeRowRanges[i][0], sizeRowRanges[i][1]),
    backgroundColor: sizeColors[i],
    borderWidth: 0,
    pointRadius: 3.6,
    pointHoverRadius: 3.6,
    showLine: false,
    clip: false as any,
  }));
  return {
    type: "scatter" as const,
    data: { datasets },
    plugins: [decorPlugin],
    options: {
      responsive: false,
      maintainAspectRatio: false,
      animation: false as const,
      events: [] as any[],
      layout: { padding: { top: 124, right: padRight, bottom: 0, left: 0 } },
      plugins: { legend: { display: false }, tooltip: { enabled: false } },
      scales: {
        x: {
          type: "linear" as const,
          min: 0,
          max: 100,
          grid: { display: false, drawTicks: false },
          border: { display: false },
          afterBuildTicks: (s: any) => {
            s.ticks = xTickValues.map((v) => ({ value: v }));
          },
          afterFit: (s: any) => {
            s.height = 120;
            s.paddingLeft = 0;
            s.paddingRight = 0;
          },
          ticks: {
            color: TEXT,
            font: { family: FONT, size: 38 },
            padding: 18,
            maxRotation: 0,
            autoSkip: false,
            callback: (v: any) => String(v),
          },
          title: {
            display: true,
            text: title,
            color: TEXT,
            font: { family: FONT, size: 42 },
            padding: { top: 0, bottom: 0 },
          },
        },
        y: {
          type: "linear" as const,
          min: 0,
          max: Y_MAX,
          reverse: true,
          grid: { display: false, drawTicks: false },
          border: { display: false },
          afterBuildTicks: (s: any) => {
            s.ticks = labels.map((_, i) => ({ value: i + 1 }));
          },
          afterFit: (s: any) => {
            s.width = yAxisWidth;
            s.paddingTop = 0;
            s.paddingBottom = 0;
          },
          ticks: {
            color: TEXT,
            font: { family: FONT, size: 39 },
            padding: 15,
            autoSkip: false,
            callback: (v: any) => labels[Math.round(v) - 1] ?? "",
          },
        },
      },
    },
  };
}

function Panel(props: { rows: Pt[][]; labels: string[]; title: string; left: number; width: number; yAxisWidth: number; padRight: number }) {
  const ref = useRef<HTMLCanvasElement | null>(null);
  useEffect(() => {
    if (!ref.current) return;
    const chart = new Chart(ref.current, makeConfig(props.rows, props.labels, props.title, props.yAxisWidth, props.padRight) as any);
    return () => chart.destroy();
  }, []);
  return (
    <canvas
      ref={ref}
      width={props.width}
      height={1809}
      style={{ position: "absolute", left: props.left, top: 0, width: props.width, height: 1809 }}
    />
  );
}

function Legend() {
  const dot = (cx: number, color: string) => (
    <span style={{ position: "absolute", left: cx - 3, top: 24, width: 6, height: 6, borderRadius: 3, background: color }} />
  );
  const text = (x: number, s: string) => (
    <span style={{ position: "absolute", left: x, top: 0, height: 51, lineHeight: "51px", fontSize: 36, color: "#000" }}>{s}</span>
  );
  return (
    <div
      style={{
        position: "absolute", left: 491, top: 2, width: 1157, height: 55, boxSizing: "border-box",
        border: "2px solid #262626", background: "#fff", fontFamily: FONT,
      }}
    >
      <span style={{ position: "absolute", left: 11, top: 8, width: 126, height: 35, boxSizing: "border-box", background: "#E3E3E3", border: "3px solid #000" }} />
      {text(146, "Multipurpose")}
      {dot(434, sizeColors[0])}
      {text(507, sizeClasses[0])}
      {dot(688, sizeColors[1])}
      {text(762, sizeClasses[1])}
      {dot(982, sizeColors[2])}
      {text(1054, sizeClasses[2])}
    </div>
  );
}

export default function App() {
  return (
    <div style={{ position: "absolute", left: 0, top: 0, width: 1876, height: 1809, overflow: "hidden", background: "#fff" }}>
      <Panel rows={streamflowRows} labels={siteNames} title={panelTitles[0]} left={0} width={1040} yAxisWidth={294} padRight={43} />
      <Panel rows={aidRows} labels={siteNumbers} title={panelTitles[1]} left={1040} width={836} yAxisWidth={101} padRight={32} />
      <Legend />
    </div>
  );
}
